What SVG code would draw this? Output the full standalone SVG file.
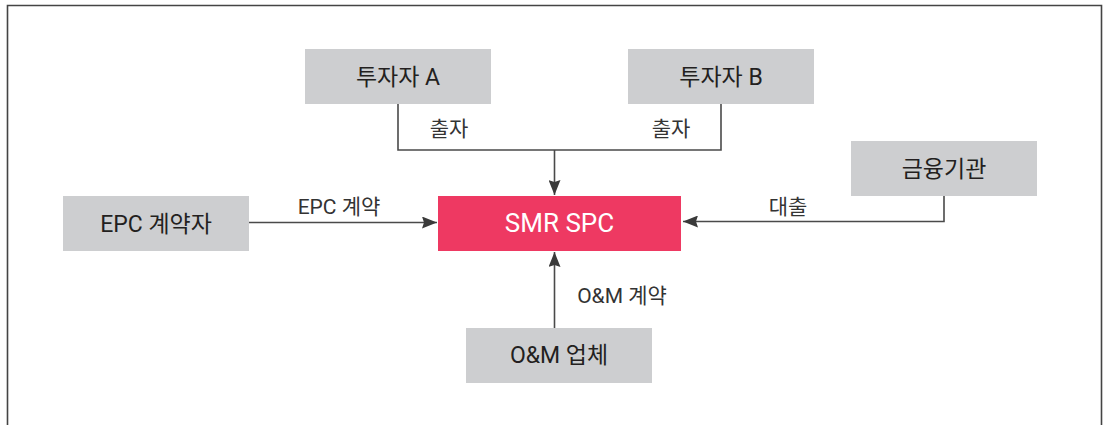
<svg xmlns="http://www.w3.org/2000/svg" width="1104" height="425" viewBox="0 0 1104 425">
<defs>
<style>
.box{fill:#cdced0}
.nt{font-family:Roboto,"Noto Sans CJK KR",sans-serif;font-size:23px;fill:#231f20;text-anchor:middle}
.lt{font-family:Roboto,"Noto Sans CJK KR",sans-serif;font-size:21px;fill:#333;text-anchor:middle}
.ln{fill:none;stroke:#4a4a4a;stroke-width:1.6}
</style>
<marker id="ah" viewBox="0 0 15 12" refX="15" refY="6" markerWidth="15" markerHeight="12" markerUnits="userSpaceOnUse" orient="auto">
<path d="M0,0 L15,6 L0,12 L2,6 Z" fill="#3a3a3a"/>
</marker>
</defs>
<rect width="1104" height="425" fill="#fff"/>
<path d="M7.5,430 V5.5 H1101.5 V430" fill="none" stroke="#444" stroke-width="1.6"/>
<g id="connectors">
<path class="ln" d="M398,103 V150 H721 V103"/>
<path class="ln" d="M554.5,150 V195" marker-end="url(#ah)"/>
<path class="ln" d="M249,222.5 H437" marker-end="url(#ah)"/>
<path class="ln" d="M944,196 V221.5 H683" marker-end="url(#ah)"/>
<path class="ln" d="M554.5,328 V252" marker-end="url(#ah)"/>
<text class="lt" x="449" y="136">출자</text>
<text class="lt" x="671" y="136">출자</text>
<text class="lt" x="339" y="214">EPC 계약</text>
<text class="lt" x="788" y="214">대출</text>
<text class="lt" x="622" y="303">O&amp;M 계약</text>
</g>
<g id="investorA"><rect class="box" x="305" y="49" width="186" height="55"/><text class="nt" x="398" y="85">투자자 A</text></g>
<g id="investorB"><rect class="box" x="628" y="49" width="186" height="55"/><text class="nt" x="721" y="85">투자자 B</text></g>
<g id="finance"><rect class="box" x="851" y="141" width="186" height="55"/><text class="nt" x="944" y="177">금융기관</text></g>
<g id="epc"><rect class="box" x="63" y="196" width="186" height="55"/><text class="nt" x="156" y="232">EPC 계약자</text></g>
<g id="spc"><rect x="438" y="196" width="243" height="55" fill="#ee3962"/><text class="nt" x="559.5" y="232" style="fill:#fff;font-size:26px">SMR SPC</text></g>
<g id="om"><rect class="box" x="466" y="328" width="186" height="55"/><text class="nt" x="559" y="363">O&amp;M 업체</text></g>
</svg>
